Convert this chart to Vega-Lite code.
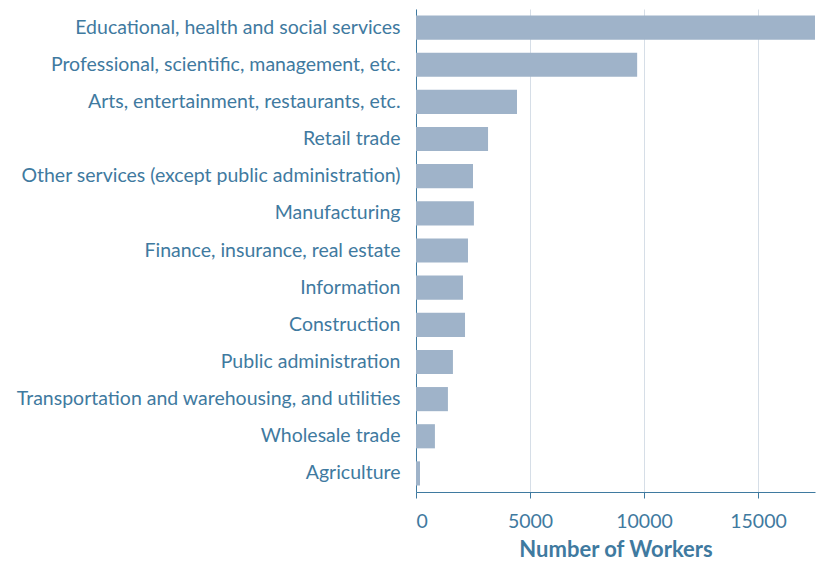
{
  "$schema": "https://vega.github.io/schema/vega-lite/v6.json",
  "autosize": "none",
  "width": 399,
  "height": 483,
  "padding": {"left": 416, "top": 9, "right": 5, "bottom": 72},
  "background": "white",
  "data": {"values": [
    {"industry": "Educational, health and social services", "workers": 17500},
    {"industry": "Professional, scientific, management, etc.", "workers": 9700},
    {"industry": "Arts, entertainment, restaurants, etc.", "workers": 4430},
    {"industry": "Retail trade", "workers": 3160},
    {"industry": "Other services (except public administration)", "workers": 2500},
    {"industry": "Manufacturing", "workers": 2540},
    {"industry": "Finance, insurance, real estate ", "workers": 2280},
    {"industry": "Information", "workers": 2060},
    {"industry": "Construction", "workers": 2150},
    {"industry": "Public administration", "workers": 1620},
    {"industry": "Transportation and warehousing, and utilities", "workers": 1400},
    {"industry": "Wholesale trade", "workers": 830},
    {"industry": "Agriculture", "workers": 175}
  ]},
  "mark": {"type": "bar", "color": "#9fb3c9"},
  "encoding": {
    "y": {"field": "industry", "type": "nominal", "sort": null,
      "scale": {"paddingInner": 0.35, "paddingOuter": 0.175},
      "axis": {"title": null, "ticks": false, "labelPadding": 16, "labelFontSize": 19.5, "labelFont": "Lato", "labelColor": "#3f7aa0", "domainColor": "#3f7aa0", "labelLimit": 500}},
    "x": {"field": "workers", "type": "quantitative",
      "scale": {"domain": [0, 17500], "nice": false},
      "axis": {"title": "Number of Workers", "values": [0, 5000, 10000, 15000], "format": "d",
        "titleFont": "Lato", "titleFontSize": 22, "titleFontWeight": "bold", "titleColor": "#3f7aa0", "titlePadding": 9,
        "labelFont": "Lato", "labelFontSize": 19.5, "labelColor": "#3f7aa0", "labelPadding": 14,
        "domainColor": "#3f7aa0", "tickColor": "#3f7aa0", "tickSize": 6,
        "gridColor": "#d6dee7", "grid": true}}
  },
  "config": {"view": {"stroke": null}, "axisY": {"grid": false}}
}
